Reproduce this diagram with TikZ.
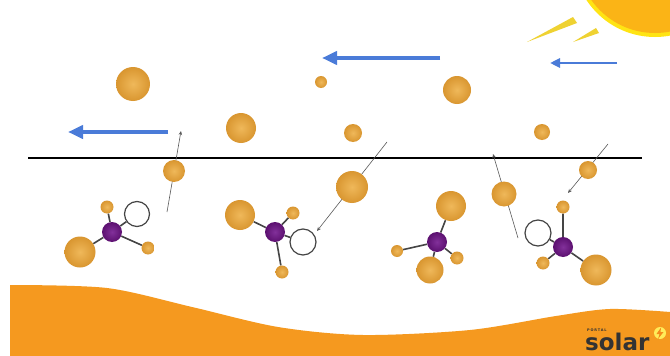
\documentclass[tikz,border=0pt]{standalone}
\usepackage{fontspec}
\usetikzlibrary{arrows.meta}
\newfontfamily\logofont{DejaVu Sans}
\newfontfamily\logotiny{DejaVu Sans}[LetterSpace=25]
\pgfdeclarelayer{back}
\pgfsetlayers{back,main}
\definecolor{ground}{HTML}{F5991F}
\definecolor{sphin}{HTML}{EFB85A}
\definecolor{sphout}{HTML}{D99630}
\definecolor{purin}{HTML}{82309A}
\definecolor{purout}{HTML}{5C1070}
\definecolor{windblue}{HTML}{4A7BD8}
\definecolor{sunfill}{HTML}{FBB416}
\definecolor{sunrim}{HTML}{FFE414}
\definecolor{ray}{HTML}{EFD232}
\definecolor{bondgray}{HTML}{454545}
\definecolor{logotext}{HTML}{333333}
\tikzset{
  sph/.style={circle, inner sep=0pt, minimum size=#1, shading=radial,
    inner color=sphin, outer color=sphout},
  core/.style={circle, inner sep=0pt, minimum size=20pt, shading=radial,
    inner color=purin, outer color=purout},
  hole/.style={circle, inner sep=0pt, minimum size=#1, draw=bondgray,
    line width=1.2pt, fill=white},
  bond/.style={draw=bondgray, line width=1.6pt},
  path/.style={draw=black!65, line width=0.6pt,
    -{Stealth[length=4pt,width=3.5pt]}},
  wind/.style={draw=windblue, line width=4pt,
    -{Triangle[length=15pt,width=13pt]}},
  windsmall/.style={draw=windblue, line width=2.5pt,
    -{Triangle[length=10pt,width=9pt]}},
}
\begin{document}
\begin{tikzpicture}[x=1pt,y=-1pt]
\useasboundingbox (0,0) rectangle (670,356);
\begin{pgfonlayer}{back}
  \fill[white] (0,0) rectangle (670,356);
\end{pgfonlayer}

% sun in the upper right corner, cut by the frame
\begin{scope}
  \clip (0,0) rectangle (670,356);
  \fill[sunrim] (655,-45) circle[radius=82];
  \fill[sunfill] (655,-45) circle[radius=78];
\end{scope}
% sun rays
\fill[ray] (527,42) -- (573,17) -- (577,23) -- cycle;
\fill[ray] (573,42) -- (596,28) -- (599,33) -- cycle;

% ground
\fill[ground] (10,356) -- plot[smooth] coordinates {(10,285) (107,288) (192,307)
  (278,327) (363,335) (470,330) (556,316) (610,309) (670,312)} -- (670,356) -- cycle;

% surface line
\coordinate (h1) at (28,158);
\coordinate (h2) at (642,158);

% free gas particles
\node[sph=34pt] (p1) at (133,84) {};
\node[sph=12pt] (p2) at (321,82) {};
\node[sph=28pt] (p3) at (457,90) {};
\node[sph=30pt] (p4) at (241,128) {};
\node[sph=18pt] (p5) at (353,133) {};
\node[sph=16pt] (p6) at (542,132) {};
\node[sph=22pt] (p7) at (174,171) {};
\node[sph=32pt] (p8) at (352,187) {};
\node[sph=25pt] (p9) at (504,194) {};
\node[sph=18pt] (p10) at (588,170) {};

% molecule 1
\node[core] (m1c) at (112,232) {};
\node[sph=13pt] (m1a) at (107,207) {};
\node[sph=31pt] (m1b) at (80,252) {};
\node[sph=13pt] (m1d) at (148,248) {};
\node[hole=25pt] (m1h) at (137,214) {};

% molecule 2
\node[core] (m2c) at (275,232) {};
\node[sph=30pt] (m2a) at (240,215) {};
\node[sph=13pt] (m2b) at (293,213) {};
\node[sph=13pt] (m2d) at (282,272) {};
\node[hole=26pt] (m2h) at (303,242) {};

% molecule 3
\node[core] (m3c) at (437,242) {};
\node[sph=30pt] (m3a) at (451,206) {};
\node[sph=12pt] (m3b) at (397,251) {};
\node[sph=13pt] (m3d) at (457,258) {};
\node[sph=27pt] (m3e) at (430,270) {};

% molecule 4
\node[core] (m4c) at (563,247) {};
\node[sph=13pt] (m4a) at (563,207) {};
\node[sph=13pt] (m4b) at (543,263) {};
\node[sph=31pt] (m4d) at (596,270) {};
\node[hole=26pt] (m4h) at (538,233) {};

% particle trajectories
\coordinate (t1s) at (167,212); \coordinate (t1e) at (181,131);
\coordinate (t2s) at (387,142); \coordinate (t2e) at (317,231);
\coordinate (t3s) at (518,238); \coordinate (t3e) at (493,154);
\coordinate (t4s) at (608,144); \coordinate (t4e) at (568,193);

\begin{pgfonlayer}{back}
  \draw[black, line width=1.2pt] (h1) -- (h2);
  \draw[bond] (m1c) -- (m1a) (m1c) -- (m1b) (m1c) -- (m1d) (m1c) -- (m1h);
  \draw[bond] (m2c) -- (m2a) (m2c) -- (m2b) (m2c) -- (m2d) (m2c) -- (m2h);
  \draw[bond] (m3c) -- (m3a) (m3c) -- (m3b) (m3c) -- (m3d) (m3c) -- (m3e);
  \draw[bond] (m4c) -- (m4a) (m4c) -- (m4b) (m4c) -- (m4d) (m4c) -- (m4h);
  \draw[path] (t1s) -- (t1e);
  \draw[path] (t2s) -- (t2e);
  \draw[path] (t3s) -- (t3e);
  \draw[path] (t4s) -- (t4e);
\end{pgfonlayer}

% wind arrows
\coordinate (w1s) at (168,132); \coordinate (w1e) at (68,132);
\coordinate (w2s) at (440,58);  \coordinate (w2e) at (322,58);
\coordinate (w3s) at (617,63);  \coordinate (w3e) at (550,63);
\draw[wind] (w1s) -- (w1e);
\draw[wind] (w2s) -- (w2e);
\draw[windsmall] (w3s) -- (w3e);

% logo
\node[anchor=base west, inner sep=0pt, text=logotext,
  font=\logofont\bfseries\fontsize{23}{23}\selectfont] (logo) at (585,350) {solar};
\node[anchor=base west, inner sep=0pt, text=logotext,
  font=\logotiny\bfseries\fontsize{3.5}{3.5}\selectfont] (logotop) at (587,331) {PORTAL};
\node[circle, inner sep=0pt, minimum size=12pt, fill=sunrim!70!white] (bolt) at (660,333) {};
\fill[ground!90!red] (661,327.5) -- (656.5,334) -- (659.5,334) -- (658,339) -- (663.5,332) -- (660.5,332) -- cycle;
\end{tikzpicture}
\end{document}
